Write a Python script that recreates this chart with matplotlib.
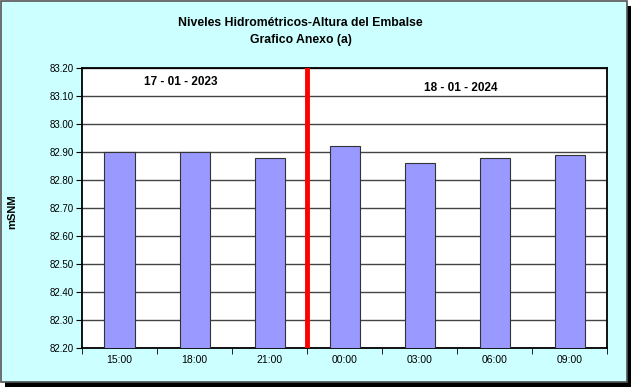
import matplotlib.pyplot as plt
from matplotlib.patches import Rectangle

# Data
horas = ['15:00', '18:00', '21:00', '00:00', '03:00', '06:00', '09:00']
niveles = [82.90, 82.90, 82.88, 82.92, 82.86, 82.88, 82.89]
fecha1 = '17 - 01 - 2023'
fecha2 = '18 - 01 - 2024'

plt.rcParams['font.family'] = ['Liberation Sans', 'DejaVu Sans']

fig = plt.figure(figsize=(6.33, 3.87), dpi=100)
fig.patch.set_facecolor('white')

# background frame with shadow
fig.patches.append(Rectangle((5 / 633, 0.5 / 387), 626 / 633, 381 / 387, transform=fig.transFigure,
                             facecolor='black', edgecolor='none', zorder=-3))
fig.patches.append(Rectangle((1 / 633, 5 / 387), 626 / 633, 381 / 387, transform=fig.transFigure,
                             facecolor='#CCFFFF', edgecolor='#555555', linewidth=1.2, zorder=-2))

ax = fig.add_axes([82 / 633, 39 / 387, 525 / 633, 280 / 387])
x = list(range(len(horas)))
ax.bar(x, niveles, width=0.4, color='#9999FF', edgecolor='#333333', linewidth=0.8, zorder=3)

ax.set_xlim(-0.5, len(horas) - 0.5)
ax.set_ylim(82.20, 83.20)
yt = [82.20 + 0.1 * i for i in range(11)]
ax.set_yticks(yt)
ax.set_yticklabels(['%.2f' % v for v in yt], fontsize=7)
ax.set_xticks(x)
ax.set_xticklabels(horas, fontsize=7.5)
ax.tick_params(axis='x', length=0, pad=5)
ax.set_xticks([i - 0.5 for i in range(len(horas) + 1)], minor=True)
ax.tick_params(axis='x', which='minor', length=4, direction='out')
ax.tick_params(axis='y', length=4, direction='out', pad=2)
ax.grid(axis='y', color='#444444', linewidth=1.0, zorder=1)
for s in ax.spines.values():
    s.set_linewidth(1.3)
    s.set_color('black')

ax.axvline(2.5, color='red', linewidth=3.5, zorder=4)

ax.text(0.82, 83.15, fecha1, fontsize=8.5, fontweight='bold', ha='center', va='center')
ax.text(4.55, 83.13, fecha2, fontsize=8.5, fontweight='bold', ha='center', va='center')

fig.text(12 / 633, 1 - 212 / 387, 'mSNM', fontsize=8, fontweight='bold', rotation=90,
         ha='center', va='center')

fig.text(300 / 633, 1 - 23 / 387, 'Niveles Hidrométricos-Altura del Embalse',
         fontsize=8.8, fontweight='bold', ha='center', va='center')
fig.text(301 / 633, 1 - 40 / 387, 'Grafico Anexo (a)',
         fontsize=8.8, fontweight='bold', ha='center', va='center')

fig.savefig('out.png', dpi=100)
